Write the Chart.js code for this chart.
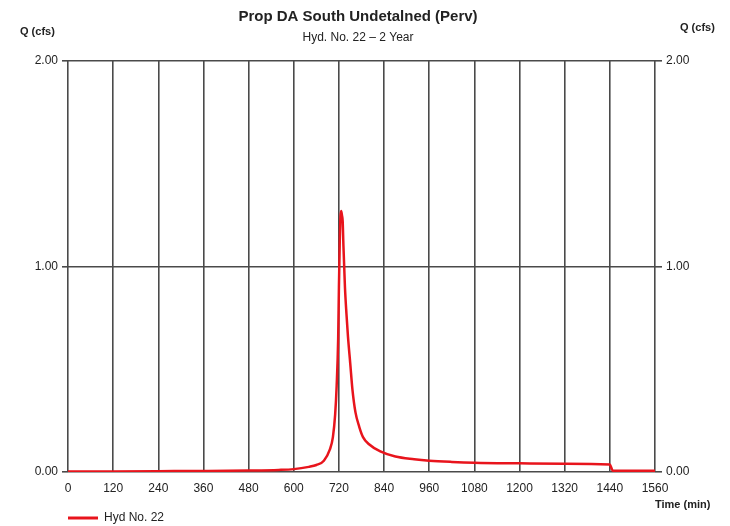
<!DOCTYPE html>
<html>
<head>
<meta charset="utf-8">
<script src="https://cdn.jsdelivr.net/npm/chart.js@4.4.1/dist/chart.umd.min.js"></script>
<style>
  html, body { margin: 0; padding: 0; background: #fff; }
  #wrap { width: 730px; height: 526px; position: relative; }
</style>
</head>
<body>
<div id="wrap"><canvas id="hydro"></canvas></div>
<script>
/* Hydrograph data */
var times = [0, 120, 240, 360, 480, 560, 600, 640, 660, 680, 696, 704, 710, 714, 718, 720, 722, 724, 726, 728, 730, 732, 734, 736, 740, 744, 750, 756, 764, 774, 784, 800, 830, 870, 920, 960, 1020, 1080, 1200, 1320, 1440, 1444, 1448, 1560];
var flows = [0.002, 0.003, 0.004, 0.005, 0.007, 0.010, 0.014, 0.025, 0.034, 0.055, 0.11, 0.17, 0.28, 0.42, 0.65, 0.90, 1.10, 1.24, 1.27, 1.25, 1.22, 1.10, 1.00, 0.90, 0.77, 0.66, 0.53, 0.40, 0.29, 0.22, 0.17, 0.135, 0.10, 0.075, 0.062, 0.055, 0.049, 0.045, 0.042, 0.040, 0.037, 0.02, 0.006, 0.006];
var xTicks = [0, 120, 240, 360, 480, 600, 720, 840, 960, 1080, 1200, 1320, 1440, 1560];
var yTicks = [0, 1, 2];

var titleText = 'Prop DA South Undetalned (Perv)';
var subTitleText = 'Hyd. No. 22 \u2013 2 Year';
var seriesName = 'Hyd No. 22';

var FONT = '"Liberation Sans", Arial, sans-serif';
var GRID = '#4a4a4a';
var RED = '#e8141c';

var points = times.map(function(t, i) { return { x: t, y: flows[i] }; });

/* Titles, axis captions and legend drawn on top */
var textPlugin = {
  id: 'hydroText',
  afterDraw: function(chart) {
    var ctx = chart.ctx;
    ctx.save();
    ctx.fillStyle = '#222';
    ctx.textBaseline = 'middle';
    ctx.textAlign = 'center';
    ctx.font = 'bold 15px ' + FONT;
    ctx.fillText(titleText, 358, 17);
    ctx.font = '12px ' + FONT;
    ctx.fillText(subTitleText, 358, 38);

    ctx.font = 'bold 11px ' + FONT;
    ctx.textAlign = 'left';
    ctx.fillText('Q (cfs)', 20, 32);
    ctx.fillText('Q (cfs)', 680, 28);
    ctx.fillText('Time (min)', 655, 505);

    /* legend */
    ctx.strokeStyle = RED;
    ctx.lineWidth = 3;
    ctx.beginPath();
    ctx.moveTo(68, 518);
    ctx.lineTo(98, 518);
    ctx.stroke();
    ctx.font = '12px ' + FONT;
    ctx.fillText(seriesName, 104, 518);
    ctx.restore();
  }
};

new Chart(document.getElementById('hydro'), {
  type: 'line',
  data: {
    datasets: [{
      label: seriesName,
      data: points,
      borderColor: RED,
      backgroundColor: RED,
      borderWidth: 2.5,
      pointRadius: 0,
      cubicInterpolationMode: 'monotone',
      fill: false
    }, {
      /* dummy dataset to get the right-hand axis */
      data: [],
      yAxisID: 'y2'
    }]
  },
  options: {
    responsive: true,
    maintainAspectRatio: false,
    animation: false,
    layout: { padding: { top: 61, left: 0, right: 0, bottom: 0 } },
    plugins: { legend: { display: false }, tooltip: { enabled: false } },
    scales: {
      x: {
        type: 'linear',
        min: 0, max: 1560,
        afterBuildTicks: function(s) { s.ticks = xTicks.map(function(v) { return { value: v }; }); },
        afterFit: function(s) { s.height = 54; },
        grid: { color: GRID, lineWidth: 1.6, drawTicks: false },
        border: { display: false },
        ticks: { color: '#222', font: { family: FONT, size: 12 }, padding: 9, maxRotation: 0, autoSkip: false,
          callback: function(v) { return String(v); } }
      },
      y: {
        min: 0, max: 2,
        afterBuildTicks: function(s) { s.ticks = yTicks.map(function(v) { return { value: v }; }); },
        afterFit: function(s) { s.width = 68; },
        grid: { color: GRID, lineWidth: 1.6, tickLength: 6 },
        border: { display: false },
        ticks: { color: '#222', font: { family: FONT, size: 12 }, padding: 4,
          callback: function(v) { return v.toFixed(2); } }
      },
      y2: {
        position: 'right',
        min: 0, max: 2,
        afterBuildTicks: function(s) { s.ticks = yTicks.map(function(v) { return { value: v }; }); },
        afterFit: function(s) { s.width = 75; },
        grid: { display: true, drawOnChartArea: false, color: GRID, lineWidth: 1.6, tickLength: 7 },
        border: { display: false },
        ticks: { color: '#222', font: { family: FONT, size: 12 }, padding: 4,
          callback: function(v) { return v.toFixed(2); } }
      }
    }
  },
  plugins: [textPlugin]
});
</script>
</body>
</html>
